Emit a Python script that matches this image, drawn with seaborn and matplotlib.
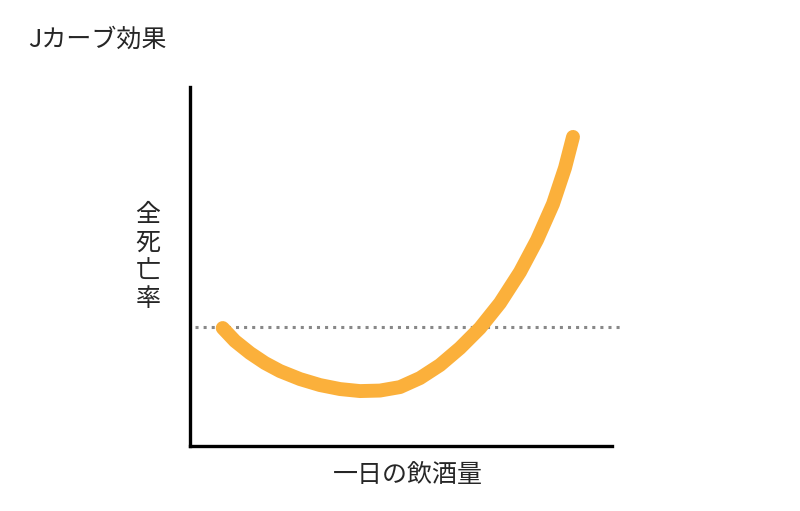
import seaborn as sns
import matplotlib.pyplot as plt
import pandas as pd

# curve (arbitrary units)
drink = [0.775, 1.066, 1.422, 1.777, 2.133, 2.607, 3.081, 3.555, 4.028, 4.502,
         4.976, 5.450, 5.924, 6.398, 6.872, 7.346, 7.820, 8.223, 8.602, 8.886, 9.076]
mortality = [3.287, 2.925, 2.591, 2.312, 2.089, 1.866, 1.699, 1.588, 1.532, 1.546,
             1.643, 1.894, 2.256, 2.730, 3.287, 3.983, 4.847, 5.738, 6.741, 7.744, 8.607]
baseline = 3.315

df = pd.DataFrame({'drink': drink, 'mortality': mortality})

sns.set_style('white')
plt.rcParams['font.family'] = ['Noto Sans CJK JP', 'DejaVu Sans']

fig = plt.figure(figsize=(8, 5.11), dpi=100)
ax = fig.add_axes([0.2375, 0.127, 0.5275, 0.703])

ax.plot([0.12, 10.2], [baseline, baseline], color='#888888', linestyle=':',
        linewidth=2.2, clip_on=False, zorder=1)
sns.lineplot(data=df, x='drink', y='mortality', ax=ax, color='#FBB03B',
             linewidth=10, solid_capstyle='round', solid_joinstyle='round',
             sort=False, zorder=2)

ax.set_xlim(0, 10)
ax.set_ylim(0, 10)
ax.set_xticks([])
ax.set_yticks([])
ax.set_xlabel('')
ax.set_ylabel('')
for side in ['top', 'right']:
    ax.spines[side].set_visible(False)
for side in ['left', 'bottom']:
    ax.spines[side].set_color('black')
    ax.spines[side].set_linewidth(2.4)

fig.text(0.035, 0.922, 'Jカーブ効果', fontsize=18, va='center', ha='left')
fig.text(0.185, 0.497, '全\n死\n亡\n率', fontsize=18, va='center', ha='center',
         linespacing=1.1)
fig.text(0.51, 0.0705, '一日の飲酒量', fontsize=18, va='center', ha='center')

fig.savefig('out.png', dpi=100)
